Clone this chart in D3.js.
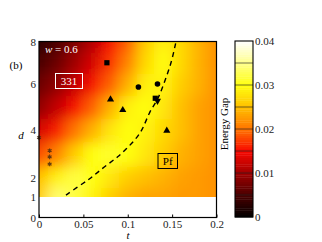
<!DOCTYPE html>
<html><head><meta charset="utf-8">
<script src="https://cdn.jsdelivr.net/npm/d3@7"></script>
<style>
html,body{margin:0;padding:0;background:#fff;}
svg{display:block;}
text{font-family:"Liberation Serif","DejaVu Serif",serif;}
</style></head><body>
<svg id="chart" width="322" height="242"></svg>
<script>
// grid of the energy gap
const tVals = [0, 0.02, 0.04, 0.06, 0.08, 0.10, 0.12, 0.14, 0.16, 0.18, 0.20];
const dVals = [1, 2, 3, 4, 5, 6, 7, 8];
const gapGrid = [
  [0.026, 0.034, 0.032, 0.029, 0.026, 0.024, 0.023, 0.023, 0.0225, 0.0225, 0.022], // d=1
  [0.025, 0.029, 0.032, 0.030, 0.028, 0.026, 0.025, 0.024, 0.023, 0.0225, 0.022],  // d=2
  [0.018, 0.021, 0.026, 0.030, 0.031, 0.030, 0.028, 0.026, 0.024, 0.023, 0.022],   // d=3
  [0.013, 0.016, 0.020, 0.024, 0.028, 0.030, 0.029, 0.027, 0.025, 0.023, 0.022],   // d=4
  [0.009, 0.012, 0.015, 0.019, 0.024, 0.029, 0.030, 0.028, 0.025, 0.023, 0.022],   // d=5
  [0.007, 0.009, 0.012, 0.015, 0.019, 0.024, 0.029, 0.029, 0.026, 0.024, 0.022],   // d=6
  [0.005, 0.007, 0.010, 0.013, 0.017, 0.021, 0.027, 0.030, 0.027, 0.024, 0.022],   // d=7
  [0.003, 0.005, 0.008, 0.011, 0.015, 0.019, 0.026, 0.029, 0.027, 0.024, 0.022]    // d=8
];

const gapStops  = [0, 0.005, 0.01, 0.015, 0.02, 0.025, 0.03, 0.035, 0.04];
const gapColors = ["#000000", "#4a0000", "#a00000", "#f80800", "#ff7400", "#ffc000", "#ffff10", "#ffff8c", "#ffffff"];
const cbTicks = [0, 0.01, 0.02, 0.03, 0.04];

const xTicks = [0, 0.05, 0.1, 0.15, 0.2];
const yTicks = [0, 1, 2, 4, 6, 8];

// markers
const squares = [[0.0765, 7.0], [0.131, 5.38]];
const circles = [[0.112, 5.87], [0.1335, 6.0]];
const triUp = [[0.0806, 5.33], [0.0944, 4.87], [0.144, 3.97]];
const triDown = [[0.1335, 5.27]];
const stars = [[0, 3.68], [0.012, 3.14], [0.012, 2.88], [0.012, 2.58]];
// dashed phase boundary
const boundary = [[0.0304, 1.1], [0.0451, 1.58], [0.0571, 1.95], [0.0665, 2.25], [0.0777, 2.58],
  [0.089, 2.88], [0.0984, 3.21], [0.1093, 3.63], [0.1172, 4.04], [0.1243, 4.8], [0.1337, 5.3],
  [0.1394, 5.88], [0.145, 6.51], [0.1499, 7.13], [0.1544, 8.0]];

const svg = d3.select("#chart");
const x = d3.scaleLinear().domain([0, 0.2]).range([39, 216.5]);
const y = d3.scaleLinear().domain([0, 1, 2, 4, 6, 8]).range([217.5, 197, 178, 130, 84, 41.5]);
const color = d3.scaleLinear().domain(gapStops).range(gapColors).clamp(true);

// heatmap cells, blurred for a smooth look
const defs = svg.append("defs");
const blur = defs.append("filter").attr("id", "soft")
  .attr("x", "-20%").attr("y", "-20%").attr("width", "140%").attr("height", "140%");
blur.append("feGaussianBlur").attr("stdDeviation", 7);
defs.append("clipPath").attr("id", "plotClip").append("rect")
  .attr("x", x(0)).attr("y", y(8)).attr("width", x(0.2) - x(0)).attr("height", y(1) - y(8));

function edges(vals, lo, hi) {
  const e = [lo];
  for (let i = 1; i < vals.length; i++) e.push((vals[i - 1] + vals[i]) / 2);
  e.push(hi);
  return e;
}
const tEdges = edges(tVals, -0.06, 0.26);
const dEdges = edges(dVals, -0.5, 10);

const cells = [];
gapGrid.forEach((row, i) => row.forEach((g, j) => cells.push({ i, j, g })));

svg.append("g").attr("clip-path", "url(#plotClip)")
  .append("g").attr("filter", "url(#soft)")
  .selectAll("rect").data(cells).join("rect")
  .attr("x", c => x(tEdges[c.j]))
  .attr("width", c => x(tEdges[c.j + 1]) - x(tEdges[c.j]) + 0.5)
  .attr("y", c => y(dEdges[c.i + 1]))
  .attr("height", c => y(dEdges[c.i]) - y(dEdges[c.i + 1]) + 0.5)
  .attr("fill", c => color(c.g));

// phase boundary
svg.append("path")
  .attr("d", d3.line().x(p => x(p[0])).y(p => y(p[1])).curve(d3.curveBasis)(boundary))
  .attr("fill", "none").attr("stroke", "#000").attr("stroke-width", 1.4)
  .attr("stroke-dasharray", "5,4");

// markers
svg.append("g").selectAll("rect").data(squares).join("rect")
  .attr("x", p => x(p[0]) - 2.6).attr("y", p => y(p[1]) - 2.6)
  .attr("width", 5.2).attr("height", 5.2).attr("fill", "#000");
svg.append("g").selectAll("circle").data(circles).join("circle")
  .attr("cx", p => x(p[0])).attr("cy", p => y(p[1])).attr("r", 2.8).attr("fill", "#000");
const tri = d3.symbol().type(d3.symbolTriangle).size(22);
svg.append("g").selectAll("path").data(triUp).join("path")
  .attr("transform", p => `translate(${x(p[0])},${y(p[1])})`).attr("d", tri).attr("fill", "#000");
svg.append("g").selectAll("path").data(triDown).join("path")
  .attr("transform", p => `translate(${x(p[0])},${y(p[1])}) rotate(180)`).attr("d", tri).attr("fill", "#000");
svg.append("g").selectAll("path").data(stars).join("path")
  .attr("transform", p => `translate(${x(p[0])},${y(p[1])})`)
  .attr("d", d3.symbol().type(d3.symbolAsterisk).size(14))
  .attr("fill", "none").attr("stroke", "#4a2a10").attr("stroke-width", 1.1).attr("opacity", 0.85);

// frame
svg.append("rect").attr("x", x(0)).attr("y", y(8))
  .attr("width", x(0.2) - x(0)).attr("height", y(0) - y(8))
  .attr("fill", "none").attr("stroke", "#000").attr("stroke-width", 1.2);

// axes
const serif = "Liberation Serif, DejaVu Serif, serif";
const xAxis = svg.append("g").attr("transform", `translate(0,${y(0)})`)
  .call(d3.axisBottom(x).tickValues(xTicks).tickFormat(d3.format("~g")).tickSizeInner(-3).tickSizeOuter(0).tickPadding(3));
xAxis.attr("font-family", serif);
xAxis.select(".domain").remove();
xAxis.selectAll("text").attr("font-size", 11).attr("fill", "#222");
xAxis.selectAll("line").attr("stroke", "#000");

const yAxis = svg.append("g").attr("transform", `translate(${x(0)},0)`)
  .call(d3.axisLeft(y).tickValues(yTicks).tickSize(0).tickPadding(3));
yAxis.attr("font-family", serif);
yAxis.select(".domain").remove();
yAxis.selectAll("text").attr("font-size", 11).attr("fill", "#222");

svg.append("text").attr("x", 128).attr("y", 239).attr("text-anchor", "middle")
  .attr("font-style", "italic").attr("font-size", 11).text("t");
svg.append("text").attr("x", 21).attr("y", 139).attr("text-anchor", "middle")
  .attr("font-style", "italic").attr("font-size", 11).text("d");
svg.append("text").attr("x", 16).attr("y", 69).attr("text-anchor", "middle")
  .attr("font-size", 11).text("(b)");

// in-plot labels
const wLab = svg.append("text").attr("x", 45).attr("y", 53).attr("fill", "#fff").attr("font-size", 11);
wLab.append("tspan").attr("font-style", "italic").text("w");
wLab.append("tspan").text(" = 0.6");

svg.append("rect").attr("x", 55.5).attr("y", 73.5).attr("width", 27).attr("height", 15)
  .attr("fill", "none").attr("stroke", "#fff").attr("stroke-width", 1);
svg.append("text").attr("x", 69).attr("y", 85).attr("text-anchor", "middle")
  .attr("fill", "#fff").attr("font-size", 11).text("331");

svg.append("rect").attr("x", 158).attr("y", 153.5).attr("width", 19.5).attr("height", 15)
  .attr("fill", "none").attr("stroke", "#000").attr("stroke-width", 1);
svg.append("text").attr("x", 167.7).attr("y", 165).attr("text-anchor", "middle")
  .attr("fill", "#000").attr("font-size", 11).text("Pf");

// colorbar
const cy = d3.scaleLinear().domain([0, 0.04]).range([217, 41]);
const cbX = 235, cbW = 18;
const steps = d3.range(0, 0.04, 0.0005);
svg.append("g").selectAll("rect").data(steps).join("rect")
  .attr("x", cbX).attr("width", cbW)
  .attr("y", v => cy(v + 0.0005)).attr("height", v => cy(v) - cy(v + 0.0005) + 0.4)
  .attr("fill", v => color(v + 0.00025));
svg.append("g").selectAll("line").data(gapStops.slice(1, -1)).join("line")
  .attr("x1", cbX).attr("x2", cbX + cbW).attr("y1", v => cy(v)).attr("y2", v => cy(v))
  .attr("stroke", "#222").attr("stroke-width", 0.8).attr("opacity", 0.8);
svg.append("rect").attr("x", cbX).attr("y", cy(0.04)).attr("width", cbW).attr("height", cy(0) - cy(0.04))
  .attr("fill", "none").attr("stroke", "#000").attr("stroke-width", 1.1);
const cbAxis = svg.append("g").attr("transform", `translate(${cbX + cbW},0)`)
  .call(d3.axisRight(cy).tickValues(cbTicks).tickFormat(d3.format("~g")).tickSize(0).tickPadding(2));
cbAxis.attr("font-family", serif);
cbAxis.select(".domain").remove();
cbAxis.selectAll("text").attr("font-size", 11).attr("fill", "#222");

svg.append("text").attr("transform", "translate(228,124) rotate(-90)")
  .attr("text-anchor", "middle").attr("font-size", 11).text("Energy Gap");
</script></body></html>
